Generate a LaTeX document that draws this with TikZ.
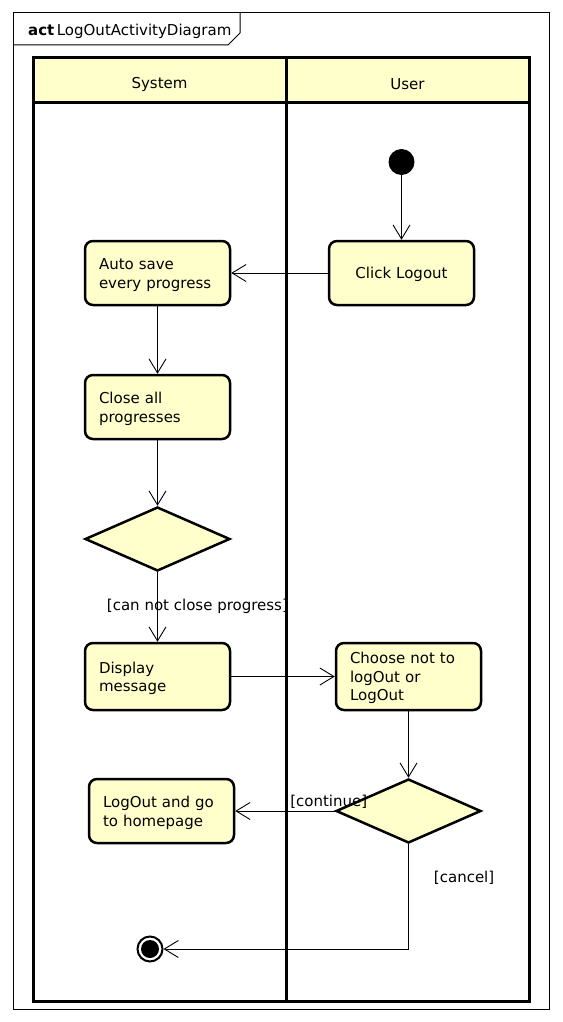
\documentclass[tikz,border=0pt]{standalone}
\usepackage{fontspec}
\setmainfont{DejaVu Sans}
\usetikzlibrary{shapes.geometric,arrows.meta}
\definecolor{actfill}{HTML}{FFFFCC}
\begin{document}
\begin{tikzpicture}[x=1pt,y=-1pt,font=\fontsize{15}{18.5}\selectfont,
	action/.style={draw,line width=2.5pt,rounded corners=8pt,fill=actfill,minimum width=145pt,minimum height=64pt,text width=117pt,inner xsep=14pt,inner ysep=0pt,align=left,execute at begin node={\rule{0pt}{15pt}}},
	decision/.style={draw,line width=2.5pt,diamond,fill=actfill,minimum width=145pt,minimum height=64pt,inner sep=0pt},
	flow/.style={-{Straight Barb[length=14pt,width=17pt]},line width=0.9pt},
	guard/.style={inner sep=0pt},
	lane/.style={line width=3pt}]
				\useasboundingbox (0,0) rectangle (562,1022);
				\pgfmathsetmacro\LL{33}
				\pgfmathsetmacro\LM{286}
				\pgfmathsetmacro\LR{529}
				\pgfmathsetmacro\LT{58}
				\pgfmathsetmacro\LH{103}
				\pgfmathsetmacro\LB{1001}

				\draw[line width=1pt] (13,13) rectangle (549,1009);
				\draw[line width=1pt] (13,45) -- (228,45) -- (240,33) -- (240,13);
				\node[anchor=base west,inner sep=0pt] (title) at (28,36) {\textbf{act}\,LogOutActivityDiagram};

				\draw[lane,fill=actfill] (\LL,\LT) rectangle (\LR,\LH);
				\draw[lane] (\LL,\LT) rectangle (\LR,\LB);
				\draw[lane] (\LM,\LT) -- (\LM,\LB);
				\node (systemhead) at (159.5,84) {System};
				\node (userhead) at (407.5,84) {User};

				\node[circle,fill,minimum size=26pt,inner sep=0pt] (start) at (401.5,162) {};
				\node[action,align=center] (clicklogout) at (401.5,273) {Click Logout};
				\node[action] (autosave) at (157.5,273) {Auto save\\every progress};
				\node[action] (closeall) at (157.5,407) {Close all\\progresses};
				\node[decision] (canclose) at (157.5,539) {};
				\node[action,minimum height=67pt] (displaymsg) at (157.5,676.5) {Display\\message};
				\node[action,minimum height=67pt] (choose) at (408.5,676.5) {Choose not to\\logOut or\\LogOut};
				\node[decision] (confirm) at (408.5,811) {};
				\node[action] (gohome) at (161.5,811) {LogOut and go\\to homepage};
				\node[circle,draw,line width=2pt,fill=white,minimum size=25pt,inner sep=0pt] (stop) at (150,949) {};
				\node[circle,fill,minimum size=18pt,inner sep=0pt] (stopdot) at (stop) {};

				\draw[flow] (start) -- (clicklogout);
				\draw[flow] (clicklogout) -- (autosave);
				\draw[flow] (autosave) -- (closeall);
				\draw[flow] (closeall) -- (canclose);
				\draw[flow] (canclose) -- node[guard,pos=0.49,anchor=west,xshift=-51pt] {[can not close progress]} (displaymsg);
				\draw[flow] (displaymsg) -- (choose);
				\draw[flow] (choose) -- (confirm);
				\draw[flow] (confirm) -- node[guard,pos=0.06,anchor=base,yshift=5pt] {[continue]} (gohome);
				\draw[flow] (confirm.south) |- node[guard,pos=0.16,anchor=west,xshift=25pt] {[cancel]} (stop);
			\end{tikzpicture}
\end{document}
